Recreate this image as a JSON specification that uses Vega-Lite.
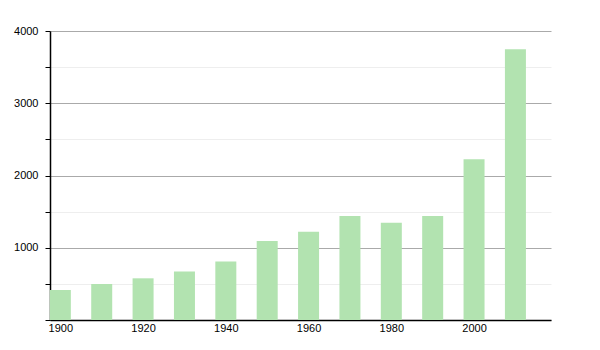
{
  "$schema": "https://vega.github.io/schema/vega-lite/v6.json",
  "width": 501,
  "height": 289,
  "autosize": "none",
  "padding": {"left": 50, "top": 31, "right": 49, "bottom": 30},
  "background": "white",
  "config": {"view": {"stroke": null}, "font": "Liberation Sans"},
  "data": {"values": [
    {"year": 1900, "value": 415},
    {"year": 1910, "value": 498},
    {"year": 1920, "value": 577},
    {"year": 1930, "value": 672},
    {"year": 1940, "value": 810},
    {"year": 1950, "value": 1095},
    {"year": 1960, "value": 1222},
    {"year": 1970, "value": 1439},
    {"year": 1980, "value": 1347},
    {"year": 1990, "value": 1439},
    {"year": 2000, "value": 2225},
    {"year": 2010, "value": 3747}
  ]},
  "mark": {"type": "bar", "width": 21, "color": "#b2e3b0"},
  "encoding": {
    "x": {
      "field": "year", "type": "quantitative",
      "scale": {"domain": [1897.5, 2018.6], "nice": false, "zero": false, "padding": 0},
      "axis": {
        "title": null, "values": [1900, 1920, 1940, 1960, 1980, 2000],
        "format": "d", "grid": false, "ticks": false,
        "domainColor": "black", "domainWidth": 1.5,
        "labelColor": "black", "labelFontSize": 11, "labelPadding": 2,
        "labelFont": "Liberation Sans"
      }
    },
    "y": {
      "field": "value", "type": "quantitative",
      "scale": {"domain": [0, 4000], "nice": false},
      "axis": {
        "title": null,
        "values": [0, 500, 1000, 1500, 2000, 2500, 3000, 3500, 4000],
        "labelExpr": "datum.value > 0 && datum.value % 1000 === 0 ? datum.value : ''",
        "grid": true,
        "gridColor": {"condition": {"test": "datum.value % 1000 === 0", "value": "#aaaaaa"}, "value": "#eeeeee"},
        "gridWidth": 1,
        "domainColor": "black", "domainWidth": 1.5,
        "tickColor": "black", "tickSize": 5,
        "labelColor": "black", "labelFontSize": 11, "labelPadding": 7,
        "labelFont": "Liberation Sans"
      }
    }
  }
}
